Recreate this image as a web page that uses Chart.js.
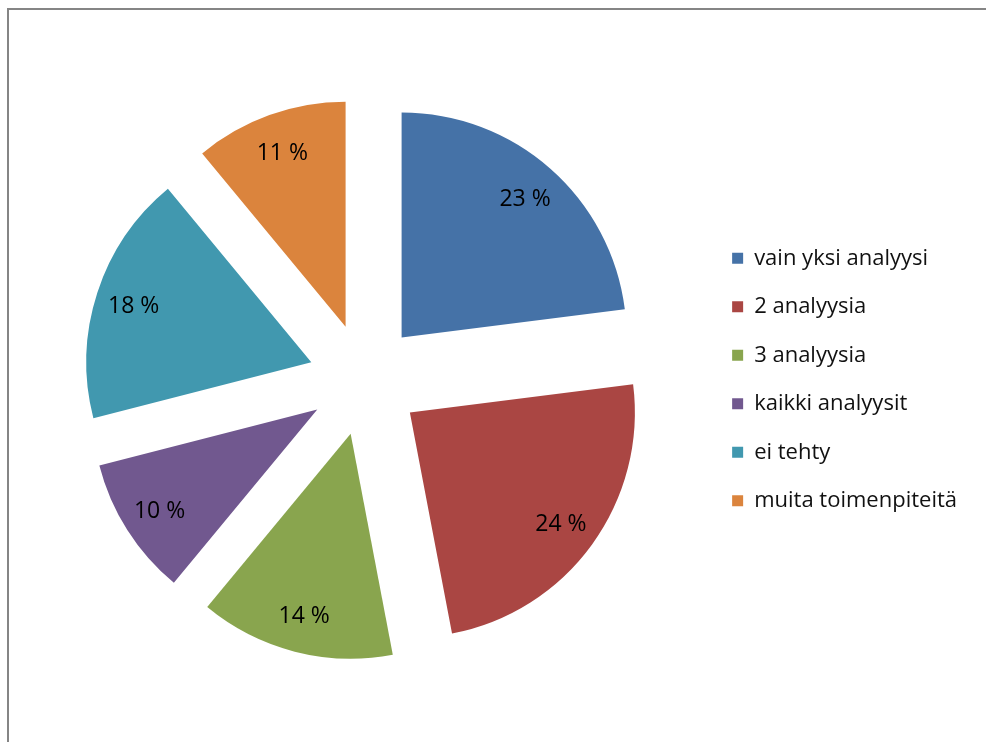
<!DOCTYPE html>
<html lang="fi">
<head>
<meta charset="utf-8">
<title>Analyysit</title>
<script src="https://cdn.jsdelivr.net/npm/chart.js@4.4.1/dist/chart.umd.min.js"></script>
<style>
    html, body { margin: 0; padding: 0; background: #fff; }
    #kehys {
        position: absolute;
        left: 7px;
        top: 8px;
        width: 1200px;
        height: 1000px;
        border-left: 2px solid #858585;
        border-top: 2px solid #858585;
    }
    #kaavio { position: absolute; left: 0; top: 0; }
</style>
</head>
<body>
<div id="kehys"></div>
<canvas id="kaavio" width="986" height="742"></canvas>
<script>
const categories = ['vain yksi analyysi', '2 analyysia', '3 analyysia', 'kaikki analyysit', 'ei tehty', 'muita toimenpiteitä'];
const shares = [23, 24, 14, 10, 18, 11];
const sliceColors = ['#4572A7', '#AA4643', '#89A54E', '#71588F', '#4198AF', '#DB843D'];

/**
 * @brief Arc that is pushed out along its mid angle without growing its radius.
 */
class ExplodedArc extends Chart.ArcElement {
    static id = 'explodedArc';
    static defaults = { explode: 0 };

    draw(ctx) {
        const mid = (this.startAngle + this.endAngle) / 2;
        const d = this.options.explode || 0;
        ctx.save();
        ctx.translate(Math.cos(mid) * d, Math.sin(mid) * d);
        super.draw(ctx);
        ctx.restore();
    }
}

class ExplodedPieController extends Chart.PieController {
    static id = 'explodedPie';
    static defaults = { dataElementType: 'explodedArc' };
}

Chart.register(ExplodedArc, ExplodedPieController);

/**
 * @brief Draws the "NN %" text inside every slice.
 */
const sliceLabels = {
    id: 'sliceLabels',
    afterDatasetsDraw(chart) {
        const ctx = chart.ctx;
        const meta = chart.getDatasetMeta(0);
        const values = chart.data.datasets[0].data;
        ctx.save();
        ctx.font = '23px "Open Sans"';
        ctx.fillStyle = '#000';
        ctx.textAlign = 'center';
        ctx.textBaseline = 'middle';
        meta.data.forEach((arc, i) => {
            const mid = (arc.startAngle + arc.endAngle) / 2;
            const r = arc.options.explode + arc.outerRadius * 0.83;
            ctx.fillText(values[i] + ' %', arc.x + Math.cos(mid) * r, arc.y + Math.sin(mid) * r + 2);
        });
        ctx.restore();
    }
};

const ctx = document.getElementById('kaavio').getContext('2d');

new Chart(ctx, {
    type: 'explodedPie',
    data: {
        labels: categories,
        datasets: [{
            data: shares,
            backgroundColor: sliceColors,
            borderWidth: 0,
            explode: 56,
            radius: 225
        }]
    },
    options: {
        responsive: false,
        animation: false,
        events: [],
        layout: {
            padding: { left: 23.5, right: 19, top: 21, bottom: 4 }
        },
        plugins: {
            tooltip: { enabled: false },
            legend: {
                position: 'right',
                labels: {
                    boxWidth: 11,
                    boxHeight: 11,
                    padding: 26.5,
                    color: '#111',
                    font: { family: '"Open Sans"', size: 22 }
                }
            }
        }
    },
    plugins: [sliceLabels]
});
</script>
</body>
</html>
